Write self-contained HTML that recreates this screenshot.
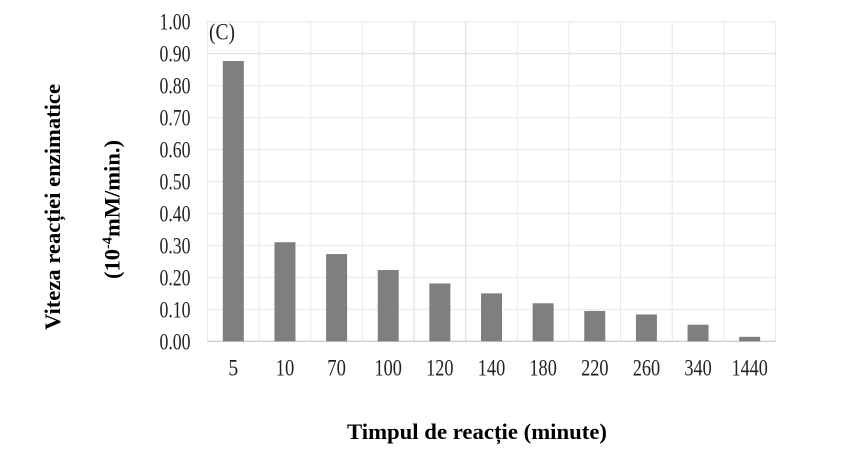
<!DOCTYPE html>
<html>
<head>
<meta charset="utf-8">
<style>
html,body{margin:0;padding:0;background:#fff;width:850px;height:476px;overflow:hidden}
svg{display:block}
text{font-family:"Liberation Serif",serif;fill:#222}
</style>
</head>
<body>
<svg id="chart" width="850" height="476" viewBox="0 0 850 476" xmlns="http://www.w3.org/2000/svg">
  <rect width="850" height="476" fill="#ffffff"/>
  <g id="grid"></g>
  <g id="bars"></g>
  <g id="ylabels"></g>
  <g id="xlabels"></g>
  <text x="209" y="39.5" font-size="23" textLength="26" lengthAdjust="spacingAndGlyphs">(C)</text>
  <text transform="translate(60,330) rotate(-90)" font-size="22" font-weight="bold" style="fill:#000" textLength="246" lengthAdjust="spacingAndGlyphs">Viteza reacției enzimatice</text>
  <text transform="translate(119.5,279) rotate(-90)" font-size="22" font-weight="bold" style="fill:#000" textLength="139" lengthAdjust="spacingAndGlyphs">(10<tspan font-size="14" dy="-8">-4</tspan><tspan dy="8">mM/min.)</tspan></text>
  <text x="347" y="439" font-size="22" font-weight="bold" style="fill:#000" textLength="260" lengthAdjust="spacingAndGlyphs">Timpul de reacție (minute)</text>
</svg>
<script>
const categories = ['5','10','70','100','120','140','180','220','260','340','1440'];
const rates = [0.877,0.31,0.273,0.223,0.181,0.15,0.119,0.095,0.084,0.052,0.014];
const yTicks = [0,0.1,0.2,0.3,0.4,0.5,0.6,0.7,0.8,0.9,1];

const NS = 'http://www.w3.org/2000/svg';
const left = 207.5, right = 775.5, top_ = 21.7, bottom = 341.3, yMax = 1;
const band = (right - left) / categories.length;
const barWidth = 21;
const xScale = i => left + band * i;
const yScale = v => bottom - (v / yMax) * (bottom - top_);

function line(parent, x1, y1, x2, y2, color, width) {
  const l = document.createElementNS(NS, 'line');
  l.setAttribute('x1', x1);
  l.setAttribute('y1', y1);
  l.setAttribute('x2', x2);
  l.setAttribute('y2', y2);
  l.setAttribute('stroke', color);
  l.setAttribute('stroke-width', width);
  parent.appendChild(l);
  return l;
}

const grid = document.getElementById('grid');
yTicks.forEach(t => {
  if (t === 0) return;
  const gl = line(grid, left, yScale(t), right, yScale(t), t === 0.9 ? '#dcdcdc' : '#e8e8e8', 1);
  
  
});
for (let i = 0; i <= categories.length; i++) {
  const gl = line(grid, xScale(i), top_, xScale(i), bottom, (i === 4 || i === 5) ? '#dadada' : '#e8e8e8', 1);
  
  
}
const axis = line(grid, left, bottom, right, bottom, '#c4c4c4', 1.2);



const barsG = document.getElementById('bars');
rates.forEach((v, i) => {
  const r = document.createElementNS(NS, 'rect');
  r.setAttribute('x', xScale(i) + (band - barWidth) / 2);
  r.setAttribute('y', yScale(v));
  r.setAttribute('width', barWidth);
  r.setAttribute('height', bottom - yScale(v));
  r.setAttribute('fill', '#7f7f7f');
  
  
  barsG.appendChild(r);
});

const ylabels = document.getElementById('ylabels');
yTicks.forEach(t => {
  const s = document.createElementNS(NS, 'text');
  s.textContent = t.toFixed(2);
  s.setAttribute('x', 190.5);
  s.setAttribute('y', yScale(t) + 8);
  s.setAttribute('text-anchor', 'end');
  s.setAttribute('font-size', '23');
  s.setAttribute('textLength', '31');
  s.setAttribute('lengthAdjust', 'spacingAndGlyphs');
  
  
  ylabels.appendChild(s);
});

const xlabels = document.getElementById('xlabels');
categories.forEach((c, i) => {
  const s = document.createElementNS(NS, 'text');
  s.textContent = c;
  s.setAttribute('x', xScale(i) + band / 2);
  s.setAttribute('y', 375.5);
  s.setAttribute('text-anchor', 'middle');
  s.setAttribute('font-size', '23');
  s.setAttribute('textLength', String(c.length * 8.8 + 1));
  s.setAttribute('lengthAdjust', 'spacingAndGlyphs');
  
  
  xlabels.appendChild(s);
});
</script>
</body>
</html>
